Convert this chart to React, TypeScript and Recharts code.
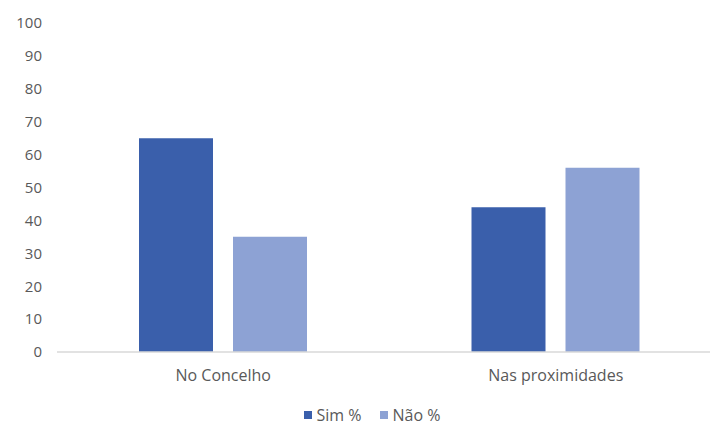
import React from 'react';
import { BarChart, Bar, XAxis, YAxis, Legend } from 'recharts';

const categories = ['No Concelho', 'Nas proximidades'];
const simValues = [65, 44];
const naoValues = [35, 56];
const yTicks = [0, 10, 20, 30, 40, 50, 60, 70, 80, 90, 100];
const series = [
  { key: 'sim', name: 'Sim %', color: '#3A5FAB' },
  { key: 'nao', name: 'Não %', color: '#8DA2D4' },
];

const data = categories.map((name, i) => ({
  name,
  sim: simValues[i],
  nao: naoValues[i],
}));

const FONT = '"Open Sans", "Noto Sans", sans-serif';

const LegendContent = () => (
  <div style={{ display: 'flex', justifyContent: 'center', paddingLeft: 40, paddingTop: 8, fontFamily: FONT, fontSize: 16, lineHeight: '22px', color: '#595959' }}>
    {series.map(s => (
      <div key={s.key} style={{ display: 'flex', alignItems: 'center', marginRight: 18 }}>
        <span style={{ display: 'inline-block', width: 8, height: 8, background: s.color, marginRight: 5 }} />
        <span>{s.name}</span>
      </div>
    ))}
  </div>
);

export default function App() {
  return (
    <div style={{ position: 'absolute', left: 0, top: 0, width: 710, height: 426, overflow: 'hidden', background: '#fff' }}>
      <BarChart
        width={722}
        height={426}
        data={data}
        margin={{ top: 23, right: 0, bottom: 0, left: 0 }}
        barGap={20}
        barSize={74}
      >
        <XAxis
          dataKey="name"
          tickLine={false}
          axisLine={{ stroke: '#d9d9d9', strokeWidth: 1.5 }}
          tickSize={0}
          tickMargin={18}
          height={44}
          tick={{ fill: '#595959', fontSize: 16, fontFamily: FONT }}
        />
        <YAxis
          domain={[0, 100]}
          ticks={yTicks}
          interval={0}
          tickLine={false}
          axisLine={false}
          tickSize={0}
          tickMargin={15}
          width={57}
          tick={{ fill: '#595959', fontSize: 15, fontFamily: FONT }}
        />
        <Legend verticalAlign="bottom" height={30} content={<LegendContent />} />
        {series.map(s => (
          <Bar key={s.key} dataKey={s.key} name={s.name} fill={s.color} isAnimationActive={false} />
        ))}
      </BarChart>
    </div>
  );
}
